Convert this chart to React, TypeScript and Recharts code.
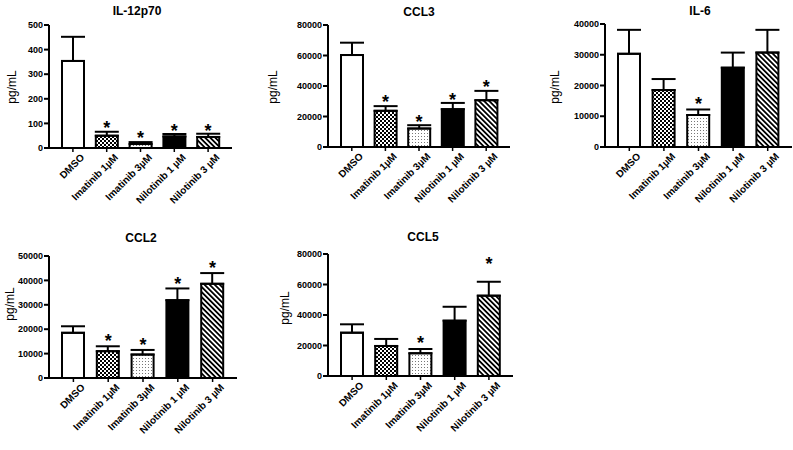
import { ComposedChart, Bar, Cell, ErrorBar, Line, XAxis, YAxis } from "recharts";

const categories = ["DMSO", "Imatinib 1µM", "Imatinib 3µM", "Nilotinib 1 µM", "Nilotinib 3 µM"];

// IL-12p70
const il12Mean = [354, 50, 16, 47, 45];
const il12Sem = [98, 16, 8, 10, 13];
const il12Star = [null, 98, 57, 87, 87];
const il12Ticks = [0, 100, 200, 300, 400, 500];

// CCL3
const ccl3Mean = [60300, 23700, 12100, 24800, 30700];
const ccl3Sem = [8100, 3100, 2200, 4100, 6100];
const ccl3Star = [null, 32200, 19300, 33500, 41700];
const ccl3Ticks = [0, 20000, 40000, 60000, 80000];

// IL-6
const il6Mean = [30300, 18500, 10400, 25800, 30700];
const il6Sem = [7800, 3600, 1800, 4900, 7400];
const il6Star = [null, null, 15300, null, null];
const il6Ticks = [0, 10000, 20000, 30000, 40000];

// CCL2
const ccl2Mean = [18500, 11000, 9600, 31900, 38600];
const ccl2Sem = [2700, 2000, 1900, 4800, 4400];
const ccl2Star = [null, 16800, 15100, 40100, 46600];
const ccl2Ticks = [0, 10000, 20000, 30000, 40000, 50000];

// CCL5
const ccl5Mean = [28400, 19700, 14900, 36300, 52700];
const ccl5Sem = [5500, 4600, 2800, 9100, 9100];
const ccl5Star = [null, null, 24100, null, 76000];
const ccl5Ticks = [0, 20000, 40000, 60000, 80000];

const fills = ["#fff", "url(#pat-check)", "url(#pat-dots)", "#000", "url(#pat-stripes)"];

const FONT = "'Liberation Sans', Arial, sans-serif";
const W = 793;
const H = 450;
const Y_AXIS_W = 40;
const X_AXIS_H = 30;

const panels = [
  { title: "IL-12p70", mean: il12Mean, sem: il12Sem, star: il12Star, ticks: il12Ticks,
    axisX: 49, axisEnd: 232, top: 25, zero: 148, titleX: 137, titleY: 11, labelX: 12, labelY: 87 },
  { title: "CCL3", mean: ccl3Mean, sem: ccl3Sem, star: ccl3Star, ticks: ccl3Ticks,
    axisX: 328, axisEnd: 510, top: 25, zero: 147, titleX: 419, titleY: 12, labelX: 273, labelY: 87 },
  { title: "IL-6", mean: il6Mean, sem: il6Sem, star: il6Star, ticks: il6Ticks,
    axisX: 605, axisEnd: 792, top: 24, zero: 147, titleX: 700, titleY: 11, labelX: 555, labelY: 87 },
  { title: "CCL2", mean: ccl2Mean, sem: ccl2Sem, star: ccl2Star, ticks: ccl2Ticks,
    axisX: 49, axisEnd: 237, top: 256, zero: 378, titleX: 141, titleY: 238, labelX: 10, labelY: 304 },
  { title: "CCL5", mean: ccl5Mean, sem: ccl5Sem, star: ccl5Star, ticks: ccl5Ticks,
    axisX: 328, axisEnd: 513, top: 254, zero: 376, titleX: 423, titleY: 237, labelX: 285, labelY: 308 },
];

const XTick = ({ x, y, payload }: any) => (
  <g transform={`translate(${x + 7},${y - 1})`}>
    <text
      transform="rotate(-45)"
      textAnchor="end"
      dy="0.71em"
      fontFamily={FONT}
      fontWeight="bold"
      fontSize={10}
      fill="#000"
    >
      {payload.value}
    </text>
  </g>
);

const StarDot = ({ cx, cy, index }: any) => {
  if (cx == null || cy == null || Number.isNaN(cy)) return <g key={index} />;
  return (
    <text key={index} x={cx} y={cy} dy={10} textAnchor="middle" fontFamily={FONT} fontWeight="bold" fontSize={18} fill="#000">
      *
    </text>
  );
};

function Panel({ p }: { p: (typeof panels)[number] }) {
  const data = categories.map((c, i) => ({ name: c, mean: p.mean[i], sem: p.sem[i], star: p.star[i] }));
  const maxTick = p.ticks[p.ticks.length - 1];
  return (
    <div style={{ position: "absolute", left: 0, top: 0 }}>
      <ComposedChart
        width={W}
        height={H}
        data={data}
        style={{ overflow: "visible" }}
        margin={{ top: p.top, bottom: H - p.zero - X_AXIS_H, left: p.axisX - Y_AXIS_W, right: W - p.axisEnd }}
      >
        <XAxis
          dataKey="name"
          interval={0}
          padding={{ left: 7, right: 7 }}
          axisLine={{ stroke: "#000", strokeWidth: 2 }}
          tickLine={{ stroke: "#000", strokeWidth: 1.5 }}
          tickSize={4}
          tickMargin={2}
          tick={<XTick />}
          height={X_AXIS_H}
        />
        <YAxis
          width={Y_AXIS_W}
          domain={[0, maxTick]}
          ticks={p.ticks}
          interval={0}
          axisLine={{ stroke: "#000", strokeWidth: 2 }}
          tickLine={{ stroke: "#000", strokeWidth: 2 }}
          tickSize={5}
          tickMargin={1}
          tick={{ fontFamily: FONT, fontWeight: "bold", fontSize: 9, fill: "#000" }}
        />
        <Bar dataKey="mean" barSize={22} stroke="#000" strokeWidth={2} isAnimationActive={false}>
          {data.map((_, i) => (
            <Cell key={i} fill={fills[i]} />
          ))}
          <ErrorBar
            dataKey={(d: any) => [0, d.sem]}
            direction="y"
            width={12}
            stroke="#000"
            strokeWidth={2}
            isAnimationActive={false}
          />
        </Bar>
        <Line
          dataKey="star"
          stroke="none"
          dot={<StarDot />}
          activeDot={false}
          isAnimationActive={false}
          legendType="none"
        />
      </ComposedChart>
    </div>
  );
}

export default function App() {
  return (
    <div style={{ position: "absolute", left: 0, top: 0, width: W, height: H, background: "#fff" }}>
      <svg width={0} height={0} style={{ position: "absolute" }}>
        <defs>
          <pattern id="pat-check" width={4} height={4} patternUnits="userSpaceOnUse">
            <rect width={4} height={4} fill="#fff" />
            <rect x={0} y={0} width={2} height={2} fill="#000" />
            <rect x={2} y={2} width={2} height={2} fill="#000" />
          </pattern>
          <pattern id="pat-dots" width={3} height={3} patternUnits="userSpaceOnUse">
            <rect width={3} height={3} fill="#fff" />
            <rect x={1} y={1} width={1} height={1} fill="#777" />
          </pattern>
          <pattern id="pat-stripes" width={3.6} height={3.6} patternUnits="userSpaceOnUse" patternTransform="rotate(-45)">
            <rect width={3.6} height={3.6} fill="#fff" />
            <rect x={0} y={0} width={1.8} height={3.6} fill="#000" />
          </pattern>
        </defs>
      </svg>
      {panels.map((p) => (
        <Panel key={p.title} p={p} />
      ))}
      <svg width={W} height={H} style={{ position: "absolute", left: 0, top: 0, pointerEvents: "none" }}>
        {panels.map((p) => (
          <g key={p.title}>
            <text x={p.titleX} y={p.titleY} dy="0.35em" textAnchor="middle" fontFamily={FONT} fontWeight="bold" fontSize={12} fill="#000">
              {p.title}
            </text>
            <text
              x={p.labelX}
              y={p.labelY}
              dy="0.35em"
              textAnchor="middle"
              transform={`rotate(-90, ${p.labelX}, ${p.labelY})`}
              fontFamily={FONT}
              fontSize={12}
              fill="#000"
            >
              pg/mL
            </text>
          </g>
        ))}
      </svg>
    </div>
  );
}
